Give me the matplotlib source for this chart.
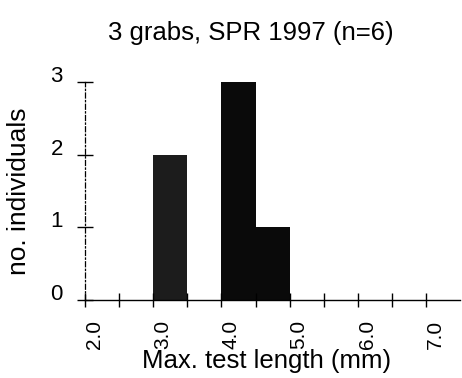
import matplotlib
matplotlib.use("Agg")
import matplotlib.pyplot as plt

plt.rcParams['font.family'] = ['Liberation Sans', 'DejaVu Sans']

bin_starts = [3.0, 4.0, 4.5]
counts = [2, 3, 1]
bin_width = 0.5
xticks = [2.0, 3.0, 4.0, 5.0, 6.0, 7.0]
xticklabels = ["2.0", "3.0", "4.0", "5.0", "6.0", "7.0"]
yticks = [0, 1, 2, 3]
title = "3 grabs, SPR 1997 (n=6)"
xlabel = "Max. test length (mm)"
ylabel = "no. individuals"

bar_colors = ['#1c1c1c', '#0a0a0a', '#0a0a0a']

fig = plt.figure(figsize=(4.62, 3.78), dpi=100)
ax = fig.add_axes([0.184, 0.206, 0.812, 0.577])

ax.bar(bin_starts, counts, width=bin_width, align='edge', color=bar_colors, linewidth=0)

ax.set_xlim(2.0, 7.5)
ax.set_ylim(0, 3)
ax.set_xticks([x * 0.5 for x in range(4, 15)], minor=True)
ax.set_xticks(xticks)
ax.set_xticklabels(xticklabels, rotation=90, fontsize=15, ha='left')
ax.set_yticks(yticks)
ax.set_yticklabels([str(v) for v in yticks], fontsize=16)
for lab in ax.get_yticklabels():
    lab.set_va('baseline')

ax.spines['top'].set_visible(False)
ax.spines['right'].set_visible(False)
ax.spines['left'].set_linestyle((0, (4, 2, 1, 2)))
ax.spines['left'].set_linewidth(0.9)
ax.spines['bottom'].set_linewidth(1.0)

ax.tick_params(axis='y', direction='inout', length=12, width=1, pad=10)
ax.tick_params(axis='x', which='both', direction='inout', length=10, width=1, pad=9)

ax.set_title(title, fontsize=18.5, pad=30, x=0.443)
ax.set_xlabel(xlabel, fontsize=18.5, labelpad=0, x=0.483)
ax.set_ylabel(ylabel, fontsize=19, labelpad=14)

fig.savefig("out.png", dpi=100)
